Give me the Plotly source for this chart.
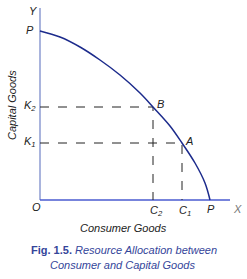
import plotly.graph_objects as go

# Production possibility curve points (consumer goods, capital goods)
curve_x = [0, 20, 40, 60, 80, 100, 113, 130, 142, 155, 165, 170]
curve_y = [169, 163, 153, 140, 125, 107, 93, 74, 57, 37, 17, 0]

# Points on the curve
point_names = ["B", "A"]
point_x = [113, 142]
point_y = [93, 57]
k_labels = ["K<sub>2</sub>", "K<sub>1</sub>"]
c_labels = ["C<sub>2</sub>", "C<sub>1</sub>"]

axis_x_end = 190
axis_y_end = 192

fig = go.Figure()

# axes
fig.add_trace(go.Scatter(x=[0, 0], y=[0, axis_y_end], mode="lines",
                         line=dict(color="#8c9bd2", width=1.5), hoverinfo="skip"))
fig.add_trace(go.Scatter(x=[0, axis_x_end], y=[0, 0], mode="lines",
                         line=dict(color="#4a5bd0", width=1.5), hoverinfo="skip"))

# dashed guides
for px, py in zip(point_x, point_y):
    fig.add_trace(go.Scatter(x=[0, px, px], y=[py, py, 0], mode="lines",
                             line=dict(color="#222222", width=1, dash="dash"),
                             hoverinfo="skip"))

# curve
fig.add_trace(go.Scatter(x=curve_x, y=curve_y, mode="lines",
                         line=dict(color="#1c2b8c", width=1.5, shape="spline"),
                         hoverinfo="skip"))

ann = []
def lab(text, x, y, size=11, color="#222222", angle=0):
    ann.append(dict(x=x, y=y, xref="x", yref="y", text=text, showarrow=False,
                    textangle=angle,
                    font=dict(family="Liberation Sans, Arial", size=size, color=color)))

lab("<i>Y</i>", -7, 189)
lab("<i>P</i>", -10, 170)
for kl, py in zip(k_labels, point_y):
    lab("<i>" + kl + "</i>", -10, py + 1)
lab("<i>O</i>", -4, -7)
for cl, px in zip(c_labels, point_x):
    lab("<i>" + cl + "</i>", px + 3, -11)
lab("<i>P</i>", curve_x[-1] + 1, -9)
lab("<i>X</i>", 197, -9, color="#777777")
lab("<i>" + point_names[0] + "</i>", point_x[0] + 7, point_y[0] + 3)
lab("<i>" + point_names[1] + "</i>", point_x[1] + 7, point_y[1] + 2)
lab("<i>Capital Goods</i>", -28, 95, size=11, angle=-90)
lab("<i>Consumer Goods</i>", 83, -28, size=11)
lab("<b>Fig. 1.5.</b> <i>Resource Allocation between</i>", 84, -50, size=11, color="#34459a")
lab("<i>Consumer and Capital Goods</i>", 82, -65, size=11, color="#34459a")

fig.update_layout(
    width=247, height=279,
    margin=dict(l=0, r=0, t=0, b=0),
    paper_bgcolor="white", plot_bgcolor="white",
    showlegend=False,
    annotations=ann,
    xaxis=dict(range=[-40, 207], visible=False, fixedrange=True),
    yaxis=dict(range=[-79, 200], visible=False, fixedrange=True),
)

fig.write_html("out.html")
